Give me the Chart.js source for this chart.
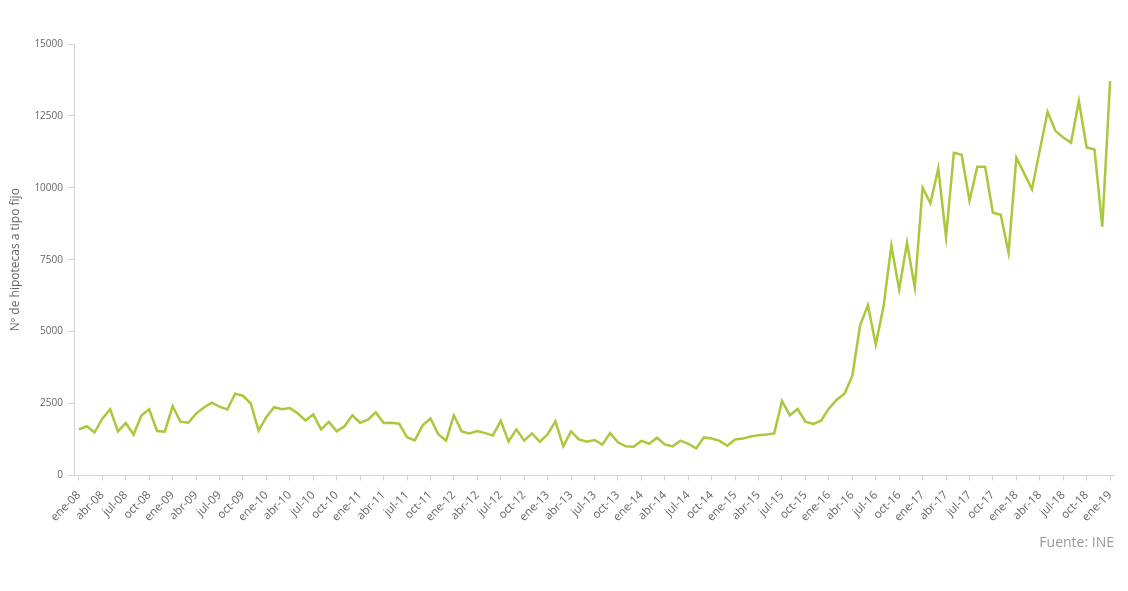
<!DOCTYPE html>
<html lang="es">
<head>
    <meta charset="UTF-8">
    <title>Hipotecas a tipo fijo</title>
    <script src="https://cdn.jsdelivr.net/npm/chart.js"></script>
    <style>
        html, body { margin: 0; padding: 0; background: #fff; }
        #wrap { position: relative; width: 1128px; height: 591px; }
    </style>
</head>
<body>
    <div id="wrap">
        <canvas id="chart" width="1128" height="591"></canvas>
    </div>
    <script>
        var meses = ['ene', 'feb', 'mar', 'abr', 'may', 'jun', 'jul', 'ago', 'sep', 'oct', 'nov', 'dic'];
        var anios = ['08', '09', '10', '11', '12', '13', '14', '15', '16', '17', '18', '19'];

        // ene-08 .. ene-19, one per month
        var labels = [];
        anios.forEach(function (a) {
            meses.forEach(function (m) { labels.push(m + '-' + a); });
        });
        labels = labels.slice(0, 133);

        var hipotecasFijo = [
            1600, 1710, 1500, 1970, 2300, 1530, 1820, 1420, 2080, 2300, 1540, 1520,
            2410, 1870, 1830, 2150, 2360, 2530, 2390, 2290, 2840, 2770, 2500, 1560,
            2030, 2370, 2300, 2340, 2160, 1910, 2120, 1600, 1860, 1530, 1710, 2090,
            1830, 1940, 2190, 1820, 1830, 1800, 1330, 1220, 1740, 1980, 1430, 1210,
            2090, 1530, 1460, 1540, 1470, 1390, 1900, 1180, 1600, 1210, 1460, 1170,
            1430, 1880, 1010, 1530, 1250, 1170, 1230, 1070, 1470, 1150, 1010, 1000,
            1200, 1100, 1310, 1080, 1010, 1210, 1100, 940, 1320, 1280, 1200, 1030,
            1250, 1280, 1350, 1400, 1420, 1460, 2590, 2090, 2310, 1870, 1790, 1900,
            2320, 2630, 2840, 3460, 5220, 5920, 4550, 5880, 7990, 6460, 8090, 6530,
            10010, 9460, 10670, 8290, 11220, 11150, 9550, 10730, 10730, 9130, 9060, 7740,
            11050, 10500, 9950, 11310, 12640, 11980, 11750, 11570, 13020, 11400, 11330, 8650,
            13710
        ];

        var yTicks = [0, 2500, 5000, 7500, 10000, 12500, 15000];

        var ctx = document.getElementById('chart').getContext('2d');
        Chart.defaults.font.family = "'Open Sans', 'Noto Sans', sans-serif";

        var chart = new Chart(ctx, {
            type: 'line',
            data: {
                labels: labels,
                datasets: [{
                    label: 'Nº de hipotecas a tipo fijo',
                    data: hipotecasFijo,
                    borderColor: '#a9c83c',
                    backgroundColor: '#a9c83c',
                    borderWidth: 2.5,
                    pointRadius: 0,
                    tension: 0,
                    fill: false
                }]
            },
            options: {
                responsive: false,
                animation: false,
                layout: { padding: { left: 8, top: 44, right: 14, bottom: 40 } },
                plugins: {
                    legend: { display: false },
                    tooltip: { enabled: false },
                    subtitle: {
                        display: true,
                        text: 'Fuente: INE',
                        position: 'bottom',
                        align: 'end',
                        color: '#9a9a9a',
                        font: { size: 14 },
                        padding: { top: 2, bottom: 0 }
                    }
                },
                scales: {
                    x: {
                        offset: true,
                        border: { color: '#d4d4d4' },
                        grid: {
                            drawOnChartArea: false,
                            color: '#d4d4d4',
                            tickLength: 5
                        },
                        ticks: {
                            autoSkip: false,
                            maxRotation: 45,
                            minRotation: 45,
                            color: '#666',
                            font: { size: 11.5 },
                            padding: 8,
                            callback: function (v, i) {
                                return i % 3 === 0 ? labels[i] : null;
                            }
                        }
                    },
                    y: {
                        min: 0,
                        max: 15000,
                        afterBuildTicks: function (axis) {
                            axis.ticks = yTicks.map(function (v) { return { value: v }; });
                        },
                        border: { color: '#d4d4d4' },
                        grid: {
                            drawOnChartArea: false,
                            color: '#d4d4d4',
                            tickLength: 8
                        },
                        ticks: {
                            color: '#666',
                            font: { size: 10 },
                            padding: 4,
                            callback: function (v) { return String(v); }
                        },
                        title: {
                            display: true,
                            text: 'Nº de hipotecas a tipo fijo',
                            color: '#666',
                            font: { size: 12 },
                            padding: { top: 0, bottom: 8 }
                        }
                    }
                }
            }
        });
    </script>
</body>
</html>
